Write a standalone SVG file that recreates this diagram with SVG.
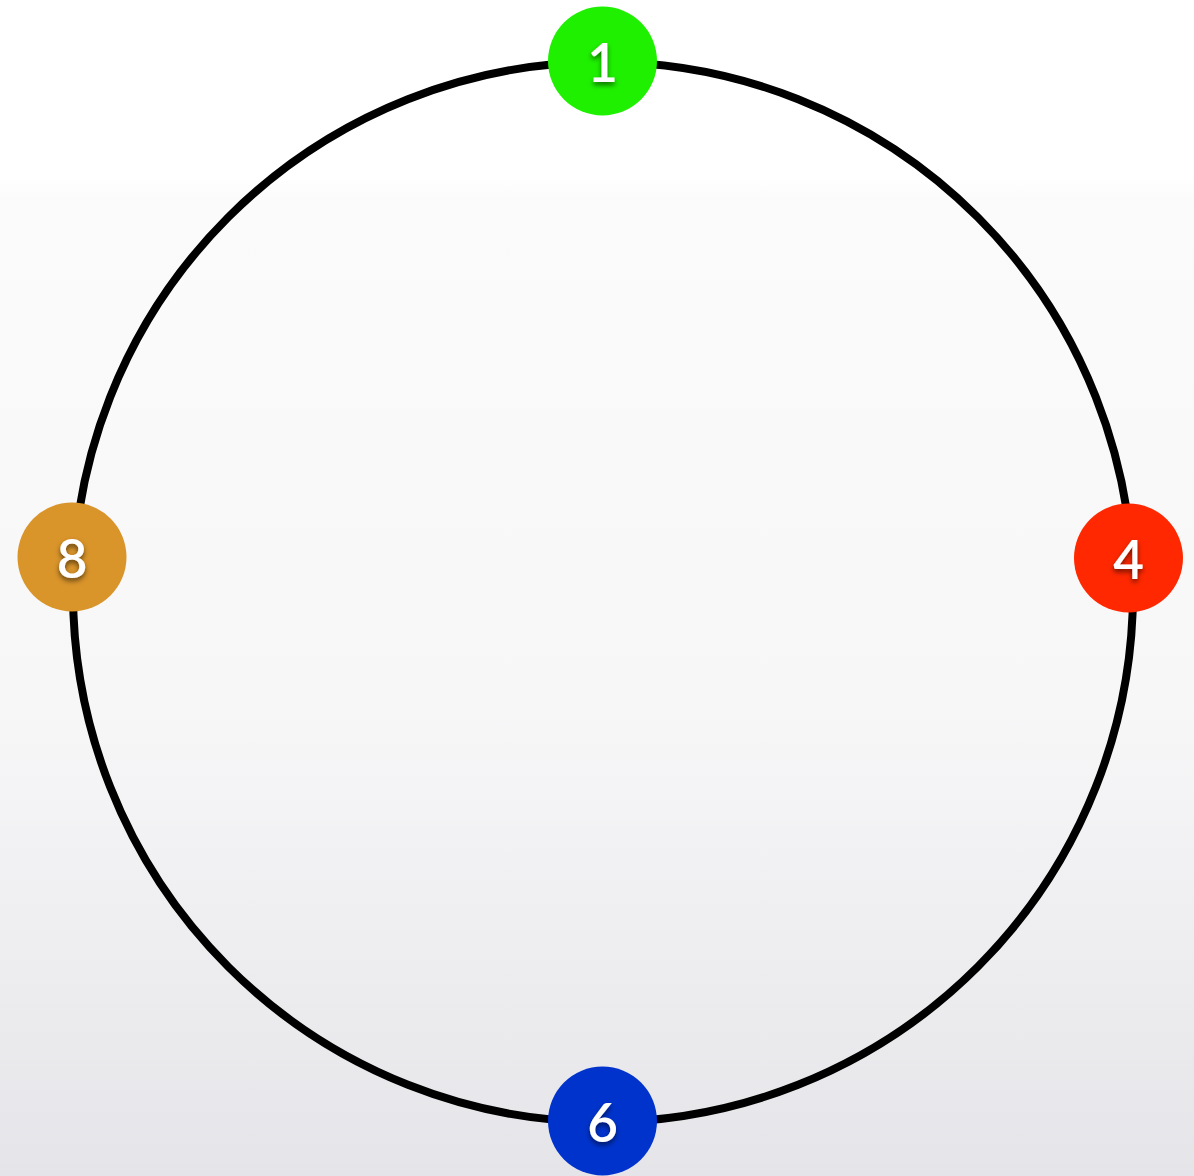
<svg xmlns="http://www.w3.org/2000/svg" width="1194" height="1176" viewBox="0 0 1194 1176">
  <defs>
    <linearGradient id="bg" x1="0" y1="0" x2="0" y2="1">
      <stop offset="0" stop-color="#ffffff"/>
      <stop offset="0.15" stop-color="#ffffff"/>
      <stop offset="0.17" stop-color="#fbfbfb"/>
      <stop offset="0.6" stop-color="#f7f7f8"/>
      <stop offset="1" stop-color="#e5e5e9"/>
    </linearGradient>
    <filter id="ts" x="-50%" y="-50%" width="200%" height="200%">
      <feDropShadow dx="0" dy="3" stdDeviation="2.5" flood-color="#000000" flood-opacity="0.55"/>
    </filter>
    <style>
      .ring { fill: none; stroke: #000000; stroke-width: 8; }
      .node-label { font-family: Lato, "Open Sans", "DejaVu Sans", sans-serif; font-size: 53px; font-weight: 600; fill: #ffffff; text-anchor: middle; dominant-baseline: central; filter: url(#ts); }
    </style>
  </defs>
  <rect x="0" y="0" width="1194" height="1176" fill="url(#bg)"/>
  <g id="connectors">
    <circle class="ring" cx="603" cy="592" r="530"/>
  </g>
  <g id="node-1">
    <circle cx="602.5" cy="61" r="54.5" fill="#1ef000"/>
    <text class="node-label" x="602.5" y="61">1</text>
  </g>
  <g id="node-4">
    <circle cx="1128.5" cy="558" r="54.5" fill="#ff2800"/>
    <text class="node-label" x="1128.5" y="558">4</text>
  </g>
  <g id="node-6">
    <circle cx="602.5" cy="1121" r="54.5" fill="#0033cc"/>
    <text class="node-label" x="602.5" y="1121">6</text>
  </g>
  <g id="node-8">
    <circle cx="72" cy="557" r="54.5" fill="#d9942a"/>
    <text class="node-label" x="72" y="557">8</text>
  </g>
</svg>
